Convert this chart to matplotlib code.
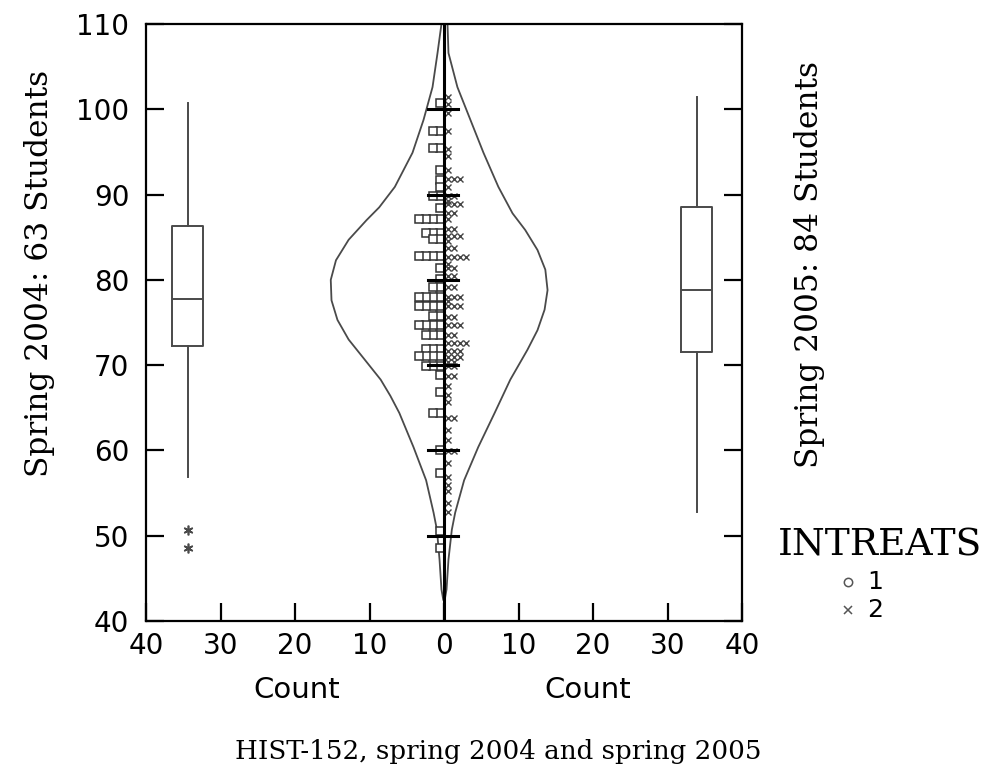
import matplotlib
matplotlib.use("Agg")
import matplotlib.pyplot as plt
import numpy as np

# ---------------- data ----------------
# Spring 2004 scores (63 students): value and number of students at that value
s04_vals = [100.7, 97.4, 95.5, 92.9, 91.7, 90.9, 89.8, 88.4, 87.1, 85.5, 84.8, 82.8,
            81.4, 80.1, 79.2, 78.0, 76.9, 75.8, 74.7, 73.5, 71.9, 71.1, 69.9, 68.9,
            66.9, 64.4, 60.1, 57.3, 50.5, 48.6]
s04_counts = [1, 2, 2, 1, 1, 1, 2, 1, 4, 3, 2, 4, 1, 1, 2, 4, 4, 2, 4, 3, 3, 4, 3, 1,
              1, 2, 1, 1, 1, 1]

# Spring 2005 scores (84 students)
s05_vals = [101.4, 100.6, 99.6, 97.4, 95.3, 94.5, 92.9, 91.8, 90.9, 89.8, 89.2, 88.9,
            87.8, 87.1, 86.0, 85.1, 84.5, 83.7, 82.7, 81.9, 81.4, 80.5, 79.2, 78.0,
            77.5, 76.9, 75.7, 74.7, 73.5, 72.6, 71.6, 71.0, 70.4, 69.9, 68.7, 67.5,
            66.5, 65.7, 63.8, 62.4, 61.2, 59.9, 58.5, 56.9, 56.0, 55.2, 53.8, 52.8]
s05_counts = [1, 1, 1, 1, 1, 1, 1, 3, 1, 2, 1, 3, 2, 1, 2, 3, 1, 2, 4, 1, 2, 2, 2, 3,
              1, 3, 2, 3, 2, 4, 3, 3, 2, 2, 2, 1, 1, 1, 2, 1, 1, 2, 1, 1, 1, 1, 1, 1]

# box plot statistics
box04 = dict(whislo=56.9, q1=72.3, med=77.8, q3=86.3, whishi=100.7, fliers=[50.7, 48.6])
box05 = dict(whislo=52.8, q1=71.5, med=78.8, q3=88.5, whishi=101.4, fliers=[])

# density outlines (count scale)
dens_y04 = [110.0, 106.6, 102.6, 98.75, 94.9, 90.9, 88.5, 87.0, 84.7, 82.3, 80.0, 77.6,
            75.3, 73.0, 70.6, 68.3, 66.4, 64.4, 60.4, 56.5, 52.7, 50.7, 47.2, 43.7, 42.5]
dens_04 = [0.34, 0.87, 1.54, 2.75, 4.23, 6.6, 8.7, 10.4, 12.8, 14.5, 15.2, 15.1,
           14.3, 12.8, 10.6, 8.5, 7.2, 6.0, 4.1, 2.4, 1.4, 0.95, 0.6, 0.34, 0.1]
dens_y05 = [110.0, 106.6, 102.6, 98.75, 94.9, 90.9, 87.8, 85.85, 83.5, 81.2, 78.8, 76.5,
            74.1, 71.8, 68.3, 64.4, 60.4, 56.5, 52.7, 50.7, 47.2, 43.7, 42.5]
dens_05 = [0.47, 0.6, 1.8, 3.55, 5.3, 7.3, 9.2, 10.9, 12.55, 13.6, 13.9, 13.5,
           12.55, 11.2, 8.9, 6.8, 4.6, 2.7, 1.5, 1.05, 0.6, 0.34, 0.1]

x_ticks = [-40, -30, -20, -10, 0, 10, 20, 30, 40]
y_ticks = [40, 50, 60, 70, 80, 90, 100, 110]

# ---------------- figure ----------------
W, H = 987, 781
fig = plt.figure(figsize=(W / 100, H / 100), dpi=100)
ax = fig.add_axes([146 / W, 1 - 621 / H, (742 - 146) / W, (621 - 24) / H])
ax.set_xlim(-40, 40)
ax.set_ylim(40, 110)

grey = "#4a4a4a"
for s in ax.spines.values():
    s.set_linewidth(1.6)
    s.set_color("black")

# density outlines
ax.plot([-d for d in dens_04], dens_y04, color=grey, lw=1.3)
ax.plot(dens_05, dens_y05, color=grey, lw=1.3)

# central axis with cross ticks
ax.axvline(0, color="black", lw=2.2, zorder=4)
for v in y_ticks[1:-1]:
    ax.plot([-2.1, 1.9], [v, v], color="black", lw=2.2, zorder=4)

# stacked dot strips
step = 0.95
for v, c in zip(s04_vals, s04_counts):
    xs = [-(k + 0.55) * step for k in range(c)]
    ax.plot(xs, [v] * c, ls="none", marker="s", ms=5.5, mfc="white",
            mec="#333333", mew=1.1, zorder=3)
for v, c in zip(s05_vals, s05_counts):
    xs = [(k + 0.7) * 0.8 for k in range(c)]
    ax.plot(xs, [v] * c, ls="none", marker="x", ms=4, mec="#444444",
            mew=1.0, zorder=3)

# box plots
bp_kw = dict(widths=4.2, showcaps=False, patch_artist=False,
             boxprops=dict(color=grey, lw=1.4),
             medianprops=dict(color=grey, lw=1.4),
             whiskerprops=dict(color=grey, lw=1.4),
             flierprops=dict(marker=(6, 2, 0), markersize=7, markeredgecolor=grey,
                             markeredgewidth=1.2, ls="none"))
ax.bxp([box04], positions=[-34.4], **bp_kw)
ax.bxp([box05], positions=[33.9], **bp_kw)

# ticks
ax.set_xticks(x_ticks)
ax.set_xticklabels([str(abs(t)) for t in x_ticks])
ax.set_yticks(y_ticks)
ax.set_yticklabels([str(t) for t in y_ticks])
ax.tick_params(axis="both", direction="in", length=13, width=1.6, labelsize=20,
               colors="black")
ax.tick_params(axis="x", which="both", top=False, pad=8)
ax.tick_params(axis="y", right=True, pad=12)
for lab in ax.get_xticklabels() + ax.get_yticklabels():
    lab.set_fontfamily("DejaVu Sans")

# x labels "Count"
fig.text(297 / W, 1 - 690 / H, "Count", ha="center", va="center",
         fontsize=21, family="DejaVu Sans")
fig.text(588 / W, 1 - 690 / H, "Count", ha="center", va="center",
         fontsize=21, family="DejaVu Sans")

# side labels
fig.text(40 / W, 1 - 273 / H, "Spring 2004: 63 Students", rotation=90,
         ha="center", va="center", fontsize=22.5, family="DejaVu Serif")
fig.text(810 / W, 1 - 265 / H, "Spring 2005: 84 Students", rotation=90,
         ha="center", va="center", fontsize=22.5, family="DejaVu Serif")

# legend
fig.text(880 / W, 1 - 546 / H, "INTREATS", ha="center", va="center",
         fontsize=27, family="DejaVu Serif")
leg_ax = fig.add_axes([830 / W, 1 - 625 / H, 60 / W, 60 / H])
leg_ax.set_xlim(0, 1)
leg_ax.set_ylim(0, 1)
leg_ax.axis("off")
leg_ax.plot([0.3], [0.72], marker="o", ms=6, mfc="white", mec="#555555", mew=1.1)
leg_ax.plot([0.3], [0.25], marker="x", ms=6, mec="#555555", mew=1.1)
leg_ax.text(0.62, 0.72, "1", ha="left", va="center", fontsize=18, family="DejaVu Sans")
leg_ax.text(0.62, 0.25, "2", ha="left", va="center", fontsize=18, family="DejaVu Sans")

# title
fig.text(498 / W, 1 - 752 / H, "HIST-152, spring 2004 and spring 2005",
         ha="center", va="center", fontsize=18.8, family="DejaVu Serif")

fig.savefig("out.png", dpi=100)
